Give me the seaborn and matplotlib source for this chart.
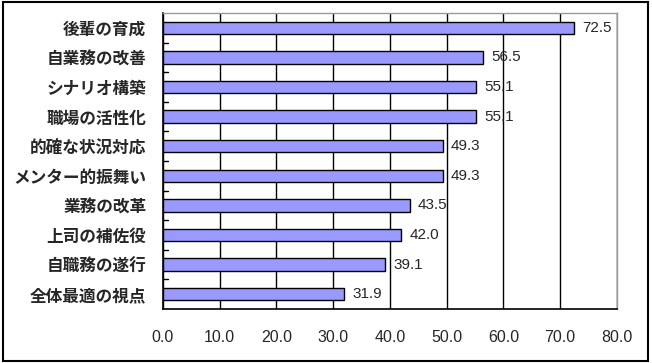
import pandas as pd
import matplotlib
matplotlib.use("Agg")
import matplotlib.pyplot as plt
import seaborn as sns
from matplotlib.patches import Rectangle

# データ（上から順）
categories = ["後輩の育成", "自業務の改善", "シナリオ構築", "職場の活性化", "的確な状況対応",
              "メンター的振舞い", "業務の改革", "上司の補佐役", "自職務の遂行", "全体最適の視点"]
values = [72.5, 56.5, 55.1, 55.1, 49.3, 49.3, 43.5, 42.0, 39.1, 31.9]
x_ticks = [0, 10, 20, 30, 40, 50, 60, 70, 80]

df = pd.DataFrame({"項目": categories, "値": values})

sns.set_style("white")
plt.rcParams['font.family'] = ['Noto Sans CJK JP', 'DejaVu Sans']

fig = plt.figure(figsize=(6.52, 3.63), dpi=100)
ax = fig.add_axes([0.25, 0.149, 0.696, 0.815])

sns.barplot(data=df, x="値", y="項目", orient="h", color="#9999FF",
            edgecolor="black", linewidth=1, width=0.42, saturation=1, ax=ax, zorder=3)

ax.set_xlim(0, 80)
ax.set_ylim(len(categories) - 0.5, -0.5)
ax.set_xticks(x_ticks)
ax.set_xticklabels([f"{t:.1f}" for t in x_ticks], fontsize=11.5, family=["Liberation Sans"])
ax.tick_params(axis="x", length=0, pad=15)

# y軸の目盛りは区切り位置に内向き
ax.set_yticks(range(len(categories)))
ax.set_yticklabels(categories, fontsize=12, fontweight="bold")
ax.tick_params(axis="y", length=0, pad=12)
for b in [i + 0.5 for i in range(len(categories) - 1)]:
    ax.plot([0, 0.9], [b, b], color="black", lw=1, zorder=4)

ax.set_xlabel("")
ax.set_ylabel("")
ax.xaxis.grid(True, color="black", lw=1, zorder=0)
ax.set_axisbelow(True)

for side in ["left", "bottom"]:
    ax.spines[side].set_color("black")
    ax.spines[side].set_linewidth(1.2)
for side in ["top", "right"]:
    ax.spines[side].set_color("#999999")
    ax.spines[side].set_linewidth(1)

ax.bar_label(ax.containers[0], labels=[f"{v:.1f}" for v in values], padding=6,
             fontsize=11, family=["Liberation Sans"])

fig.add_artist(Rectangle((0.004, 0.006), 0.99, 0.988, transform=fig.transFigure,
                         fill=False, edgecolor="black", lw=1.5))

fig.savefig("out.png", dpi=100, facecolor="white")
